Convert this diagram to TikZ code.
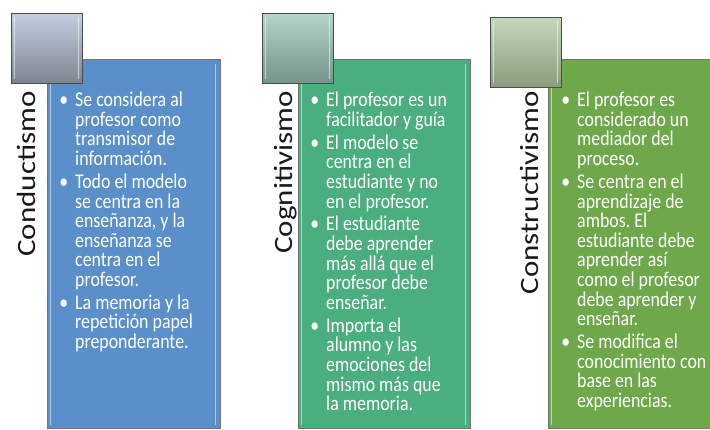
\documentclass[tikz,border=0pt]{standalone}
\usepackage{fontspec}
\setmainfont{Carlito}
\newfontfamily\bodyfont[FakeStretch=0.85]{Carlito}
\newfontfamily\titlefont{Carlito}
\frenchspacing
\definecolor{pblue}{HTML}{5A8FCA}
\definecolor{pteal}{HTML}{4BAE7E}
\definecolor{pgreen}{HTML}{6EA84A}
\definecolor{sqAtop}{HTML}{C2CEE2}
\definecolor{sqAbot}{HTML}{7F858F}
\definecolor{sqBtop}{HTML}{B4D5C8}
\definecolor{sqBbot}{HTML}{76948A}
\definecolor{sqCtop}{HTML}{C6D8BC}
\definecolor{sqCbot}{HTML}{899C7E}
\newcommand\bul{\llap{\textbullet\hspace{7pt}}}
\newcommand\ttl[1]{\scalebox{1}[0.85]{\titlefont\fontsize{31}{31}\selectfont #1}}
\tikzset{
  panelbox/.style={rectangle, draw=black!55, line width=0.8pt, inner sep=0pt},
  squarebox/.style={rectangle, draw=black!70, line width=0.8pt, inner sep=0pt,
    minimum width=71pt, minimum height=70pt, shading angle=15},
  hilite/.style={draw=white, draw opacity=0.55, line width=1.6pt},
  titletext/.style={rotate=90, anchor=base east, inner sep=0pt, text=black!90},
  bodytext/.style={anchor=north west, inner sep=0pt, align=left, text=white,
    font=\bodyfont\fontsize{21}{19.6}\selectfont\frenchspacing},
}
\begin{document}
\begin{tikzpicture}[x=1pt,y=-1pt]
\useasboundingbox[fill=white] (0,0) rectangle (710,429);

% panels
\node[panelbox, fill=pblue, minimum width=173pt, minimum height=369pt] (p1) at (133.5,243.5) {};
\node[panelbox, fill=pteal, minimum width=172pt, minimum height=369pt] (p2) at (384,243.5) {};
\node[panelbox, fill=pgreen, minimum width=174pt, minimum height=369pt] (p3) at (635,243.5) {};
\foreach \p in {p1,p2,p3}{
  \draw[hilite] ([xshift=4pt,yshift=-5pt]\p.north west) -- ([xshift=4pt,yshift=3pt]\p.south west);
  \draw[hilite] ([xshift=-5pt,yshift=-5pt]\p.north east) -- ([xshift=-5pt,yshift=3pt]\p.south east);
}

% squares
\node[squarebox, top color=sqAtop, bottom color=sqAbot] (s1) at (46.5,48) {};
\node[squarebox, top color=sqBtop, bottom color=sqBbot] (s2) at (297.5,48) {};
\node[squarebox, top color=sqCtop, bottom color=sqCbot] (s3) at (525.5,52) {};
\foreach \s in {s1,s2,s3}{
  \draw[hilite] ([xshift=4pt,yshift=-4pt]\s.north west) -- ([xshift=4pt,yshift=4pt]\s.south west);
  \draw[hilite] ([xshift=-4pt,yshift=-4pt]\s.north east) -- ([xshift=-4pt,yshift=4pt]\s.south east);
}

% titles
\node[titletext] (t1) at (35,91) {\ttl{Conductismo}};
\node[titletext] (t2) at (292,91) {\ttl{Cognitivismo}};
\node[titletext] (t3) at (538,91) {\ttl{Constructivismo}};

% bullet texts
\node[bodytext] (b1) at (75,92) {%
\bul Se considera al\\ profesor como\\ transmisor de\\ información.\\[3.3pt]
\bul Todo el modelo\\ se centra en la\\ enseñanza, y la\\ enseñanza se\\ centra en el\\ profesor.\\[3.3pt]
\bul La memoria y la\\ repetición papel\\ preponderante.};

\node[bodytext] (b2) at (326,92) {%
\bul El profesor es un\\ facilitador y guía\\[3.3pt]
\bul El modelo se\\ centra en el\\ estudiante y no\\ en el profesor.\\[3.3pt]
\bul El estudiante\\ debe aprender\\ más allá que el\\ profesor debe\\ enseñar.\\[3.3pt]
\bul Importa el\\ alumno y las\\ emociones del\\ mismo más que\\ la memoria.};

\node[bodytext] (b3) at (577,92) {%
\bul El profesor es\\ considerado un\\ mediador del\\ proceso.\\[3.3pt]
\bul Se centra en el\\ aprendizaje de\\ ambos. El\\ estudiante debe\\ aprender así\\ como el profesor\\ debe aprender y\\ enseñar.\\[3.3pt]
\bul Se modifica el\\ conocimiento con\\ base en las\\ experiencias.};
\end{tikzpicture}
\end{document}
